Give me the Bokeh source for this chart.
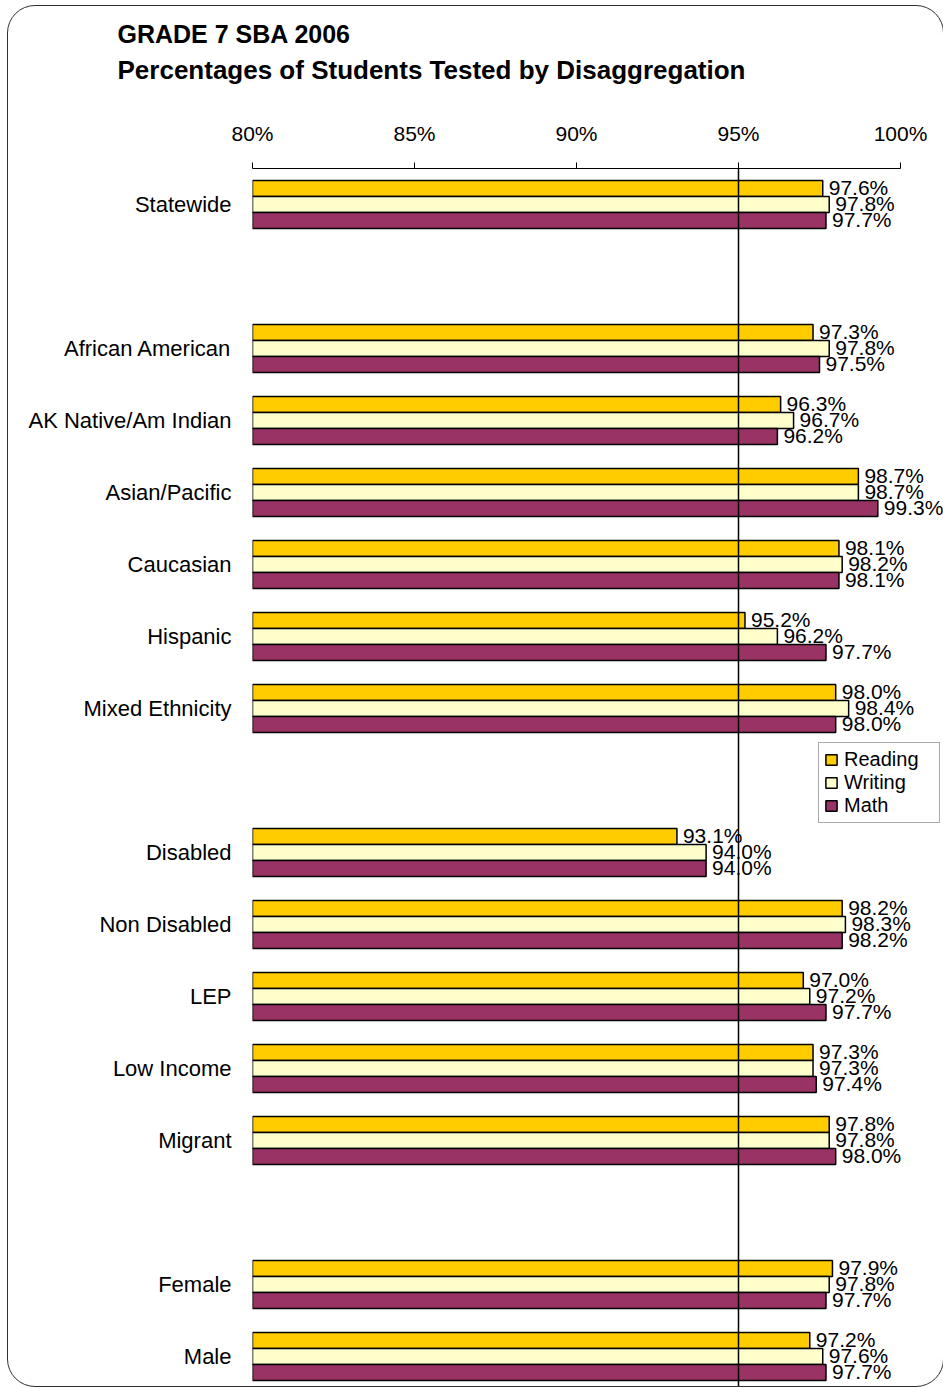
from bokeh.plotting import figure
from bokeh.models import Range1d, FixedTicker, Span, Title, ColumnDataSource
from bokeh.core.properties import value
from bokeh.embed import file_html
from bokeh.resources import INLINE

# ---------------- data ----------------
groups = [
    ["Statewide"],
    ["African American", "AK Native/Am Indian", "Asian/Pacific", "Caucasian",
     "Hispanic", "Mixed Ethnicity"],
    ["Disabled", "Non Disabled", "LEP", "Low Income", "Migrant"],
    ["Female", "Male"],
]
reading = [97.6, 97.3, 96.3, 98.7, 98.1, 95.2, 98.0, 93.1, 98.2, 97.0, 97.3, 97.8, 97.9, 97.2]
writing = [97.8, 97.8, 96.7, 98.7, 98.2, 96.2, 98.4, 94.0, 98.3, 97.2, 97.3, 97.8, 97.8, 97.6]
math_ = [97.7, 97.5, 96.2, 99.3, 98.1, 97.7, 98.0, 94.0, 98.2, 97.7, 97.4, 98.0, 97.7, 97.7]
series_names = ["Reading", "Writing", "Math"]
series_colors = ["#FFCC00", "#FFFFCC", "#993366"]
tick_values = [80, 85, 90, 95, 100]
tick_labels = ["80%", "85%", "90%", "95%", "100%"]
reference_value = 95
title_lines = ["GRADE 7 SBA 2006", "Percentages of Students Tested by Disaggregation"]

# ---------------- layout helpers ----------------
FONT = "Liberation Sans"
OX, OY = 8, 6           # page offset of the figure (via CSS margins)
W, H = 935, 1380
LEFT, TOP = 252 - OX, 168 - OY
SLOT = 72.0            # px per category slot
BAR = 16.0             # px per bar
PX_PER_PCT = 648.0 / 20.0

categories, positions = [], []
pos = 0
for g in groups:
    for name in g:
        categories.append(name)
        positions.append(pos)
        pos += 1
    pos += 1  # blank slot between groups

frame_w = W - LEFT
frame_h = H - TOP

p = figure(width=W, height=H, output_backend="svg", toolbar_location=None,
           x_range=Range1d(80, 80 + frame_w / PX_PER_PCT),
           y_range=Range1d(-0.5 + frame_h / SLOT, -0.5),
           x_axis_location="above",
           min_border_left=LEFT, min_border_right=0,
           min_border_top=TOP, min_border_bottom=0)
p.outline_line_color = None
p.grid.visible = False
p.background_fill_color = None
p.border_fill_color = None
p.styles = {"margin-left": f"{OX}px", "margin-top": f"{OY}px",
            "outline": "1.5px solid #303030", "outline-offset": "0px",
            "border-radius": "27px"}

# x axis (top)
xa = p.xaxis[0]
xa.ticker = FixedTicker(ticks=tick_values)
xa.major_label_overrides = {v: t for v, t in zip(tick_values, tick_labels)}
xa.bounds = (tick_values[0], tick_values[-1])
xa.axis_line_color = "black"
xa.axis_line_width = 1
xa.major_tick_in = 0
xa.major_tick_out = 6
xa.major_tick_line_color = "black"
xa.minor_tick_line_color = None
xa.major_label_standoff = 18
xa.major_label_text_font = FONT
xa.major_label_text_font_size = "21px"
xa.major_label_text_color = "black"
# invisible spacer between tick labels and the title block
xa.axis_label = " "
xa.axis_label_text_font_size = "2px"
xa.axis_label_standoff = 24

# y axis (categories)
ya = p.yaxis[0]
ya.ticker = FixedTicker(ticks=positions)
ya.major_label_overrides = {v: c for v, c in zip(positions, categories)}
ya.axis_line_color = None
ya.major_tick_line_color = None
ya.minor_tick_line_color = None
ya.major_tick_in = 0
ya.major_tick_out = 0
ya.major_label_standoff = 21
ya.major_label_text_font = FONT
ya.major_label_text_font_size = "22px"
ya.major_label_text_color = "black"

# bars
offsets = [-BAR / SLOT, 0.0, BAR / SLOT]
for vals, name, color, off in zip([reading, writing, math_], series_names, series_colors, offsets):
    src = ColumnDataSource(dict(
        y=[q + off for q in positions],
        right=vals,
        label=[f"{v:.1f}%" for v in vals],
    ))
    p.hbar(y="y", left=80, right="right", height=BAR / SLOT, source=src,
           fill_color=color, line_color="black", line_width=1.5, legend_label=name)
    p.text(x="right", y="y", text="label", source=src, x_offset=6, y_offset=-1,
           text_font=value(FONT), text_font_size="21px", text_color="black",
           text_baseline="middle", text_align="left")

# reference line
p.add_layout(Span(location=reference_value, dimension="height", line_color="black",
                  line_width=1.5))

# title: two stacked title lines (inner line added first)
t2 = Title(text=title_lines[1], text_font=FONT, text_font_size="26px",
           text_font_style="bold", text_color="black", align="left",
           offset=117 - 252, standoff=10)
t1 = Title(text=title_lines[0], text_font=FONT, text_font_size="25px",
           text_font_style="bold", text_color="black", align="left",
           offset=117 - 252, standoff=0)
p.add_layout(t2, "above")
p.add_layout(t1, "above")

# legend
lg = p.legend[0]
lg.location = (818 - 252, (OY + H) - 823)
lg.margin = 0
lg.padding = 5
lg.spacing = 0
lg.glyph_width = 14
lg.glyph_height = 13
lg.label_height = 20
lg.label_width = 90
lg.label_standoff = 6
lg.label_text_font = FONT
lg.label_text_font_size = "20px"
lg.label_text_color = "black"
lg.border_line_color = "#555555"
lg.border_line_width = 1
lg.background_fill_color = "white"
lg.background_fill_alpha = 1.0

open("out.html", "w").write(file_html(p, INLINE))
